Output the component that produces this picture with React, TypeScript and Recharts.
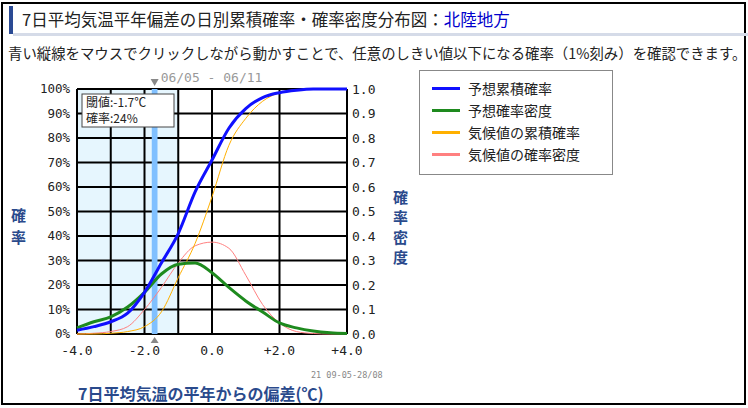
import {
  ComposedChart,
  Line,
  XAxis,
  YAxis,
  CartesianGrid,
  ReferenceArea,
} from "recharts";

// Deviation from normal (°C), sampled every 0.5
const DEVIATION = [-4, -3.5, -3, -2.5, -2, -1.5, -1, -0.5, 0, 0.5, 1, 1.5, 2, 2.5, 3, 3.5, 4];
// Forecast cumulative probability (%)
const FORECAST_CDF = [1.5, 3, 5, 8.5, 17, 29, 41, 58, 71, 84, 92, 96.5, 98.5, 99.5, 100, 100, 100];
// Forecast probability density
const FORECAST_PDF = [0.025, 0.05, 0.07, 0.11, 0.17, 0.245, 0.285, 0.29, 0.25, 0.19, 0.135, 0.09, 0.045, 0.025, 0.012, 0.005, 0.002];
// Climatological cumulative probability (%)
const CLIMATE_CDF = [0, 0, 0.3, 1, 3, 9, 23, 37, 56, 77, 88, 95, 98.5, 99.7, 100, 100, 100];
// Climatological probability density
const CLIMATE_PDF = [0, 0.003, 0.01, 0.03, 0.1, 0.19, 0.29, 0.36, 0.375, 0.35, 0.24, 0.12, 0.045, 0.01, 0.002, 0, 0];

const X_TICKS = [-4, -2, 0, 2, 4];
const X_GRID = [-4, -3, -2, -1, 0, 1, 2, 3, 4];
const PCT_TICKS = [0, 10, 20, 30, 40, 50, 60, 70, 80, 90, 100];
const DENS_TICKS = [0, 0.1, 0.2, 0.3, 0.4, 0.5, 0.6, 0.7, 0.8, 0.9, 1];

const THRESHOLD = -1.7;
const THRESHOLD_PROB = 24;
const PERIOD = "06/05 - 06/11";
const STAMP = "21 09-05-28/08";
const REGION = "北陸地方";

const SERIES = [
  { key: "fcCdf", name: "予想累積確率", color: "#1010ff", width: 3, axis: "pct" },
  { key: "fcPdf", name: "予想確率密度", color: "#1e8a1e", width: 3, axis: "dens" },
  { key: "clCdf", name: "気候値の累積確率", color: "#ffb000", width: 1, axis: "pct" },
  { key: "clPdf", name: "気候値の確率密度", color: "#ff8080", width: 1, axis: "dens" },
];

const rows = DEVIATION.map((x, i) => ({
  x,
  fcCdf: FORECAST_CDF[i],
  fcPdf: FORECAST_PDF[i],
  clCdf: CLIMATE_CDF[i],
  clPdf: CLIMATE_PDF[i],
}));

// grid columns plus the threshold split, so the stripes left of it can be shaded
const gridX = [...X_GRID, THRESHOLD].sort((a, b) => a - b);
const stripeFill = gridX.map((v) => (v < THRESHOLD ? "#e6f6fe" : "#ffffff"));
// half width of the draggable threshold bar, in °C
const BAR_HALF = 0.085;

const JP = '"Noto Sans CJK JP", sans-serif';
const MONO = '"DejaVu Sans Mono", monospace';
const NAVY = "#2a4a8c";

const fmtX = (v: number) => (v > 0 ? `+${v.toFixed(1)}` : v.toFixed(1));

// Triangles, period text and the readout box attached to the threshold bar
function ThresholdMarks(props: any) {
  const { x: left, y, width, height } = props.viewBox;
  const x = left + width / 2;
  const bottom = y + height;
  return (
    <g>
      <polygon points={`${x - 4},${y - 10} ${x + 4},${y - 10} ${x},${y - 3}`} fill="#888" />
      <text x={x + 6} y={y - 7} fontFamily={MONO} fontSize={13} fill="#999">
        {PERIOD}
      </text>
      <polygon points={`${x - 4},${bottom + 9} ${x + 4},${bottom + 9} ${x},${bottom + 3}`} fill="#888" />
      <rect x={82} y={y + 5} width={92} height={33} fill="#fff" stroke="#444" strokeWidth={1} />
      <text x={86} y={y + 18} fontFamily={JP} fontSize={12} fill="#222">
        {`閾値:${THRESHOLD.toFixed(1)}℃`}
      </text>
      <text x={86} y={y + 34} fontFamily={JP} fontSize={12} fill="#222">
        {`確率:${THRESHOLD_PROB}%`}
      </text>
    </g>
  );
}

function VerticalLabel({ text, left, top, pitch }: { text: string; left: number; top: number; pitch: number }) {
  return (
    <div style={{ position: "absolute", left, top, color: NAVY, fontFamily: JP, fontWeight: 700, fontSize: 15 }}>
      {text.split("").map((c, i) => (
        <div key={i} style={{ height: pitch, lineHeight: `${pitch}px` }}>
          {c}
        </div>
      ))}
    </div>
  );
}

export default function App() {
  return (
    <div style={{ position: "absolute", left: 0, top: 0, width: 748, height: 408, background: "#fff", overflow: "hidden" }}>
      <div
        style={{
          position: "absolute",
          left: 1,
          top: 2,
          width: 745,
          height: 403,
          boxSizing: "border-box",
          border: "2px solid #000",
        }}
      />
      <div style={{ position: "absolute", left: 9, top: 6, width: 4, height: 28, background: "#2a4a94" }} />
      <div style={{ position: "absolute", left: 13, top: 33, width: 735, height: 3, background: "#d5dbe8" }} />
      <div style={{ position: "absolute", left: 22, top: 8, fontFamily: JP, fontSize: 16.5, lineHeight: "22px", color: "#222", whiteSpace: "nowrap" }}>
        7日平均気温平年偏差の日別累積確率・確率密度分布図：<span style={{ color: "#0000cc" }}>{REGION}</span>
      </div>
      <div style={{ position: "absolute", left: 8, top: 43, fontFamily: JP, fontSize: 14.4, lineHeight: "20px", color: "#222", whiteSpace: "nowrap" }}>
        青い縦線をマウスでクリックしながら動かすことで、任意のしきい値以下になる確率（1%刻み）を確認できます。
      </div>

      <ComposedChart
        width={748}
        height={408}
        data={rows}
        margin={{ top: 89, right: 351, bottom: 44, left: 17 }}
        style={{ position: "absolute", left: 0, top: 0 }}
      >
        <XAxis
          dataKey="x"
          type="number"
          domain={[-4, 4]}
          ticks={X_TICKS}
          tickFormatter={fmtX}
          height={30}
          tickLine={false}
          axisLine={false}
          tickSize={0}
          tickMargin={12}
          tick={{ fill: "#222", fontSize: 13, fontFamily: MONO }}
        />
        <YAxis
          yAxisId="pct"
          domain={[0, 100]}
          ticks={PCT_TICKS}
          tickFormatter={(v: number) => `${v}%`}
          width={60}
          tickLine={false}
          axisLine={false}
          tickSize={0}
          tickMargin={7}
          tick={{ fill: "#222", fontSize: 12.5, fontFamily: MONO }}
        />
        <YAxis
          yAxisId="dens"
          orientation="right"
          domain={[0, 1]}
          ticks={DENS_TICKS}
          tickFormatter={(v: number) => v.toFixed(1)}
          width={50}
          tickLine={false}
          axisLine={false}
          tickSize={0}
          tickMargin={5}
          tick={{ fill: "#222", fontSize: 13, fontFamily: MONO, textAnchor: "start" }}
        />
        <CartesianGrid
          yAxisId="pct"
          stroke="#000"
          strokeWidth={2}
          verticalValues={gridX}
          horizontalValues={PCT_TICKS}
          verticalFill={stripeFill}
          fillOpacity={1}
        />
        <ReferenceArea
          yAxisId="pct"
          x1={THRESHOLD - BAR_HALF}
          x2={THRESHOLD + BAR_HALF}
          y1={0}
          y2={100}
          fill="#80c0ff"
          fillOpacity={1}
          stroke="none"
          label={<ThresholdMarks />}
        />
        {SERIES.slice()
          .reverse()
          .map((s) => (
            <Line
              key={s.key}
              yAxisId={s.axis}
              dataKey={s.key}
              name={s.name}
              type="monotone"
              stroke={s.color}
              strokeWidth={s.width}
              dot={false}
              isAnimationActive={false}
            />
          ))}
      </ComposedChart>

      <VerticalLabel text="確率" left={11} top={204} pitch={22} />
      <VerticalLabel text="確率密度" left={393} top={187} pitch={20} />

      <div
        style={{
          position: "absolute",
          left: 419,
          top: 70,
          width: 194,
          height: 105,
          boxSizing: "border-box",
          border: "1px solid #888",
          background: "#fff",
        }}
      >
        {SERIES.map((s, i) => (
          <div key={s.key} style={{ position: "absolute", left: 12, top: 7 + i * 22, height: 20, display: "flex", alignItems: "center" }}>
            <div style={{ width: 28, height: 3, background: s.color }} />
            <span style={{ marginLeft: 8, fontFamily: JP, fontSize: 14, color: "#222", whiteSpace: "nowrap" }}>{s.name}</span>
          </div>
        ))}
      </div>

      <div style={{ position: "absolute", left: 311, top: 370, fontFamily: MONO, fontSize: 8.5, color: "#888", whiteSpace: "nowrap" }}>
        {STAMP}
      </div>
      <div style={{ position: "absolute", left: 78, top: 381, fontFamily: JP, fontWeight: 700, fontSize: 16, color: NAVY, whiteSpace: "nowrap" }}>
        7日平均気温の平年からの偏差(℃)
      </div>
    </div>
  );
}
